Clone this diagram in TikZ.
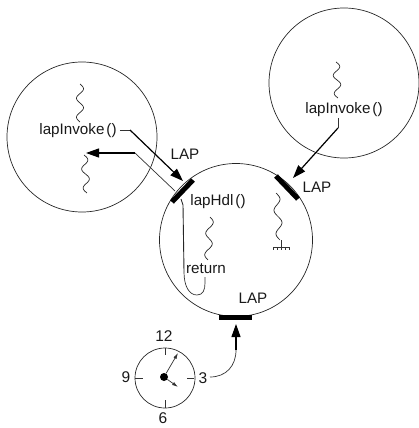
\documentclass[tikz,border=0pt]{standalone}
\usepackage{fontspec}
\setmainfont{Liberation Sans}
\usetikzlibrary{arrows.meta}
\tikzset{
  x=1pt,y=-1pt,
  ring/.style={draw=black!85,line width=0.7pt},
  lapbar/.style={line width=5pt,black},
  flow/.style={draw=black,line width=1.2pt,-{Triangle[length=13pt,width=9pt]}},
  thin line/.style={draw=black!80,line width=0.7pt},
  lbl/.style={inner sep=0pt,font=\fontsize{15.2}{17}\selectfont,text=black!90},
  wig/.style={draw=black!85,line width=0.7pt,smooth},
  num/.style={inner sep=0pt,font=\fontsize{15.5}{17}\selectfont,text=black!90},
}
\newcommand{\wiggle}[4]{% xcentre, ytop, length, drift
  \draw[wig] plot[domain=0:1,samples=41,variable=\t]
    ({#1+#4*\t+3.5*sin(\t*720)},{#2+#3*\t});
}
\begin{document}
\begin{tikzpicture}
\useasboundingbox (0,0) rectangle (419,428);
% circles
\node[ring,circle,minimum size=150pt,inner sep=0pt] (left) at (82,137) {};
\node[ring,circle,minimum size=150pt,inner sep=0pt] (right) at (344,83) {};
\node[ring,circle,minimum size=153pt,inner sep=0pt] (main) at (236,240) {};
\node[ring,circle,minimum size=60pt,inner sep=0pt] (clock) at (165,378) {};
% LAP bars
\coordinate (b1a) at (172,202); \coordinate (b1b) at (193,180);
\coordinate (b2a) at (276,176); \coordinate (b2b) at (298,199);
\coordinate (b3a) at (219,317); \coordinate (b3b) at (252,317);
\draw[lapbar] (b1a) -- (b1b);
\draw[lapbar] (b2a) -- (b2b);
\draw[lapbar] (b3a) -- (b3b);
% texts
\node[lbl] (invL) at (78,131) {lapInvoke\hspace{2pt}()};
\node[lbl] (invR) at (344,110) {lapInvoke\hspace{2pt}()};
\node[lbl] (hdl) at (218,202) {lapHdl\hspace{2pt}()};
\node[lbl] (ret) at (206,269) {return};
\node[lbl] (lap1) at (185,154) {LAP};
\node[lbl] (lap2) at (317,187) {LAP};
\node[lbl] (lap3) at (253,298) {LAP};
\node[num] (n12) at (164,336) {12};
\node[num] (n9) at (126,377) {9};
\node[num] (n3) at (203,378) {3};
\node[num] (n6) at (163,418) {6};
% squiggles
\wiggle{80}{84}{38}{0}
\wiggle{84}{155}{38}{3}
\wiggle{210}{217}{43}{-2}
\wiggle{336}{62}{36}{2}
\wiggle{276}{193}{47}{4}
% ground
\coordinate (g0) at (281,240); \coordinate (g1) at (281,247);
\coordinate (gl) at (273,247); \coordinate (gr) at (289,247);
\draw[thin line] (g0) -- (g1) (gl) -- (gr);
\foreach \x in {273,277,281,285,289}{\draw[thin line,line width=0.5pt] (\x,247) -- (\x,250);}
% connectors
\coordinate (s1) at (130,130); \coordinate (t1) at (183,181);
\draw[thin line] (invL.east) ++(3,-1) -- (s1);
\draw[flow] (s1) -- (t1);
\coordinate (s2) at (338,128); \coordinate (t2) at (293,178);
\draw[thin line] (invR.south) ++(-6,1) -- (s2);
\draw[flow] (s2) -- (t2);
\coordinate (r1) at (175,191); \coordinate (r2) at (135,153); \coordinate (r3) at (86,153);
\draw[thin line] (r1) -- (r2);
\draw[flow] (r2) -- (r3);
\coordinate (h0) at (181,199);
\coordinate (h1) at (183,205);
\coordinate (h2) at (184,272);
\coordinate (h3) at (205,277);
\draw[draw=black!85,line width=0.9pt] (h0) -- (h1) -- (h2);
\draw[thin line] (h2) .. controls (184,286) and (189,295) .. (197,295)
   .. controls (203,295) and (205,290) .. (205,283) -- (h3);
\coordinate (c0) at (210,377); \coordinate (c1) at (236,350); \coordinate (t3) at (236,324);
\draw[thin line] (c0) .. controls (226,377) and (236,366) .. (c1);
\draw[flow] (c1) -- (t3);
% clock
\draw[thin line] (165,348) -- (165,355);
\draw[thin line] (135,378) -- (143,378);
\draw[thin line] (187,378) -- (194,378);
\draw[thin line] (165,400) -- (165,408);
\node[circle,fill=black,minimum size=8pt,inner sep=0pt] (hub) at (164,377) {};
\coordinate (hand1) at (178,353);
\coordinate (hand2) at (178,387);
\draw[thin line,-{Latex[length=6pt,width=3.5pt]}] (hub) -- (hand1);
\draw[thin line,-{Latex[length=6pt,width=3.5pt]}] (hub) -- (hand2);
\end{tikzpicture}
\end{document}
